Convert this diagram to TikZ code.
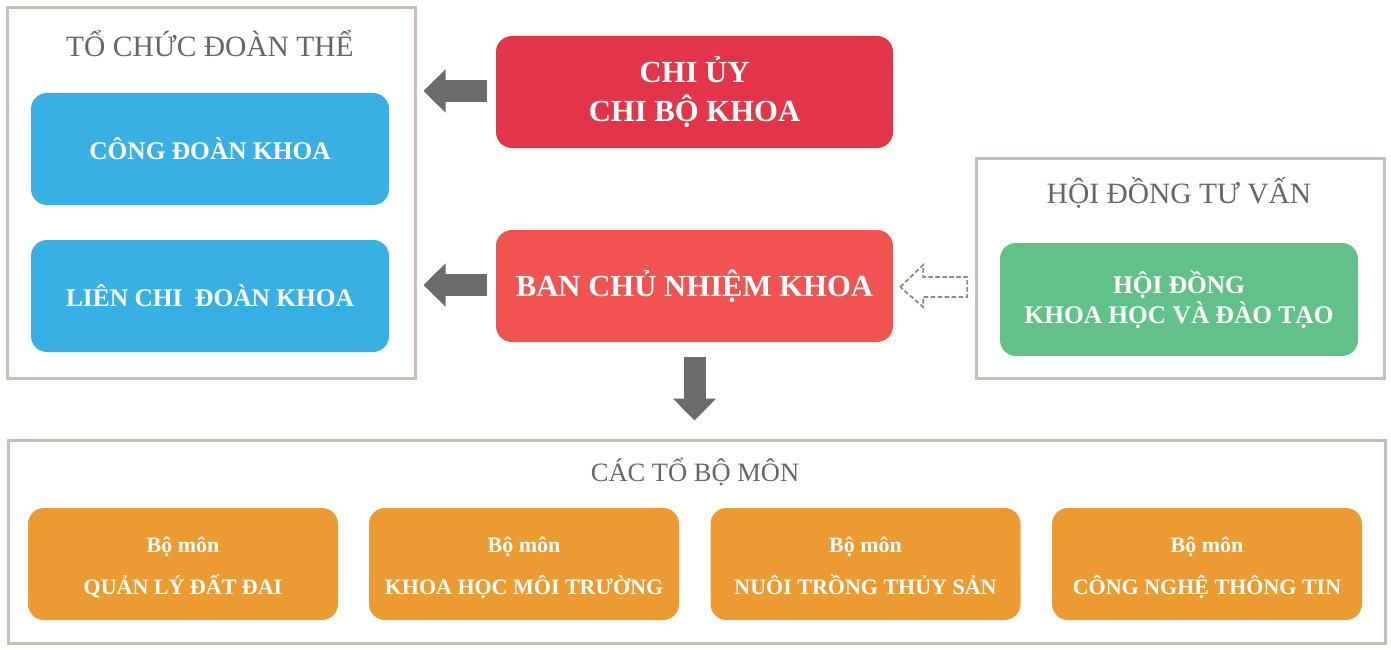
\documentclass[tikz,border=0pt]{standalone}
\usepackage{fontspec}
\setmainfont{Liberation Serif}
\usetikzlibrary{arrows.meta,calc}
\definecolor{frame}{HTML}{C7BEB5}
\definecolor{titlegray}{HTML}{666666}
\definecolor{bluebox}{HTML}{38B0E3}
\definecolor{redA}{HTML}{E3354A}
\definecolor{redB}{HTML}{F05350}
\definecolor{greenbox}{HTML}{61C188}
\definecolor{orangebox}{HTML}{EB9B32}
\definecolor{arrowgray}{HTML}{6B6B6B}
\definecolor{dashbrown}{HTML}{978777}
\tikzset{
  panel/.style={draw=frame, line width=3pt, inner sep=0pt},
  paneltitle/.style={text=titlegray, font=\fontsize{29.5}{33}\selectfont, inner sep=0pt},
  card/.style={rounded corners=16pt, inner sep=0pt, text=white, align=center, font=\bfseries},
  bigarrow/.style={draw=arrowgray, line width=22pt, -{Triangle[width=42pt,length=22pt]}, arrowgray},
  hollowarrow/.style={draw=dashbrown, dash pattern=on 4.5pt off 2.5pt, line width=1.8pt, line join=miter},
}
\begin{document}
\begin{tikzpicture}[x=1pt,y=-1pt]
\useasboundingbox (0,0) rectangle (1391,650);
% panels
\node[panel, minimum width=408pt, minimum height=370pt] (leftpanel) at (211,193) {};
\node[panel, minimum width=408pt, minimum height=220pt] (rightpanel) at (1180,268) {};
\node[panel, minimum width=1377pt, minimum height=203pt] (bottompanel) at (696.5,541.5) {};
% panel titles
\node[paneltitle] (lefttitle) at (210,44) {TỔ CHỨC ĐOÀN THỂ};
\node[paneltitle] (righttitle) at (1179,193) {HỘI ĐỒNG TƯ VẤN};
\node[paneltitle, font=\fontsize{26.5}{30}\selectfont] (bottomtitle) at (695,472) {CÁC TỔ BỘ MÔN};
% blue cards
\node[card, fill=bluebox, minimum width=358pt, minimum height=112pt, font=\bfseries\fontsize{25.4}{30}\selectfont] (congdoan) at (210,149) {CÔNG ĐOÀN KHOA};
\node[card, fill=bluebox, minimum width=358pt, minimum height=112pt, font=\bfseries\fontsize{25.4}{30}\selectfont] (lienchi) at (210,296) {LIÊN CHI\ \ ĐOÀN KHOA};
% red cards
\node[card, fill=redA, minimum width=397pt, minimum height=112pt, font=\bfseries\fontsize{30.7}{39.5}\selectfont] (chiuy) at (694.5,92) {CHI ỦY\\CHI BỘ KHOA};
\node[card, fill=redB, minimum width=397pt, minimum height=112pt, font=\bfseries\fontsize{30.7}{35}\selectfont] (bcn) at (694.5,286) {BAN CHỦ NHIỆM KHOA};
% green card
\node[card, fill=greenbox, minimum width=358pt, minimum height=113pt, font=\bfseries\fontsize{25.4}{30.5}\selectfont] (hoidong) at (1179,299.5) {HỘI ĐỒNG\\KHOA HỌC VÀ ĐÀO TẠO};
% orange cards
\foreach \nm/\cx/\txt in {bm1/183/QUẢN LÝ ĐẤT ĐAI, bm2/524/KHOA HỌC MÔI TRƯỜNG, bm3/865.5/NUÔI TRỒNG THỦY SẢN, bm4/1207/CÔNG NGHỆ THÔNG TIN}{
  \node[card, fill=orangebox, minimum width=310pt, minimum height=112pt] (\nm) at (\cx,564) {};
  \node[inner sep=0pt, text=white, align=center, font=\bfseries, anchor=base] (\nm-label) at ([yshift=-30pt]\nm.center)
    {{\fontsize{22}{25}\selectfont Bộ môn}\\[17pt]{\fontsize{22}{26}\selectfont \txt}};
}
% arrows
\draw[bigarrow] ([xshift=-9pt,yshift=1pt]chiuy.west) -- ([yshift=1pt,xshift=7pt]chiuy.west -| leftpanel.east);
\draw[bigarrow] ([xshift=-9pt,yshift=1pt]bcn.west) -- ([yshift=1pt,xshift=7pt]bcn.west -| leftpanel.east);
\draw[bigarrow] ([yshift=-15pt]bcn.south) -- ([yshift=18pt]bcn.south |- bottompanel.north);
% hollow dashed arrow from advisory panel to BCN
\coordinate (tipd) at ([xshift=7pt,yshift=-1pt]bcn.east);
\draw[hollowarrow] (tipd) -- ++(23,-22) -- ++(0,12) -- ++(44,0) -- ++(0,20) -- ++(-44,0) -- ++(0,10) -- cycle;
\end{tikzpicture}
\end{document}
